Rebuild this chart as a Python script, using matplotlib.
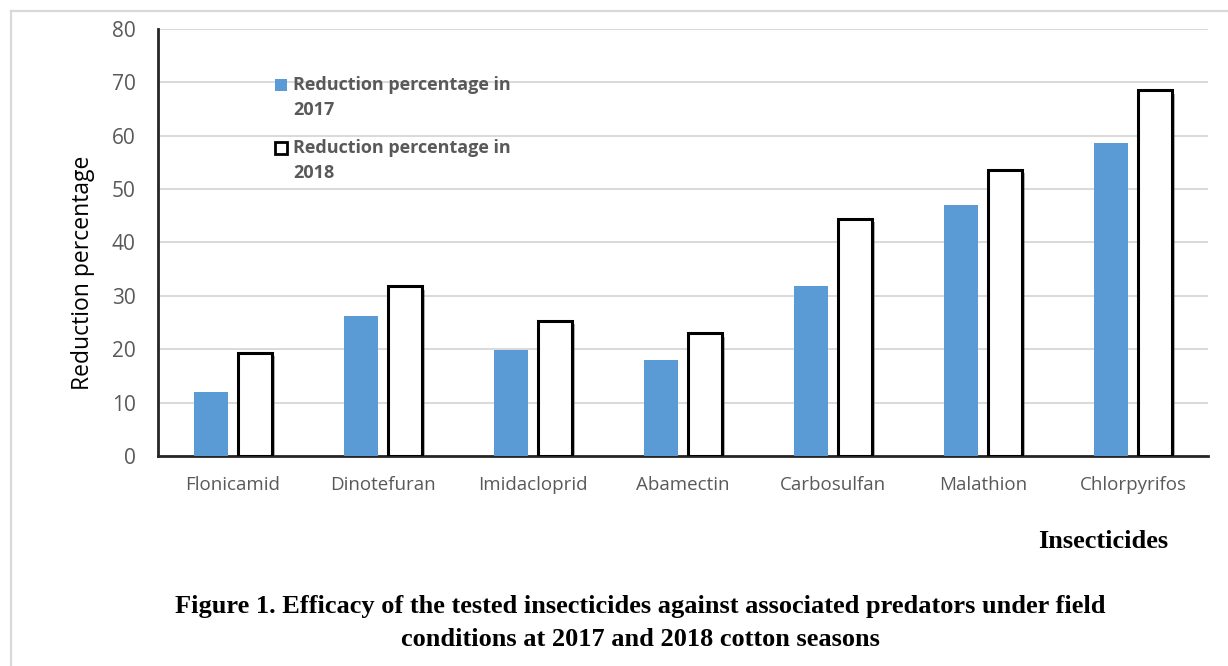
import matplotlib.pyplot as plt
import matplotlib.patheffects as pe
from matplotlib.lines import Line2D
import numpy as np

# Data
insecticides = ['Flonicamid', 'Dinotefuran', 'Imidacloprid', 'Abamectin',
                'Carbosulfan', 'Malathion', 'Chlorpyrifos']
red_2017 = [11.9, 26.2, 19.8, 18.0, 31.8, 47.1, 58.6]
red_2018 = [19.3, 31.8, 25.3, 23.0, 44.4, 53.6, 68.5]
legend_labels = [['Reduction percentage in', '2017'],
                 ['Reduction percentage in', '2018']]

W, H = 1228, 666
fig = plt.figure(figsize=(W / 100, H / 100), dpi=100)
ax = fig.add_axes([0.1287, 0.3153, 0.855, 0.6412])

x = np.arange(len(insecticides))
w = 0.225
ax.bar(x - 0.145, red_2017, width=w, color='#5B9BD5', zorder=3)
shadow = [pe.SimplePatchShadow(offset=(2.5, -2.5), shadow_rgbFace='#555555', alpha=0.45),
          pe.Normal()]
ax.bar(x + 0.145, red_2018, width=w, color='white', edgecolor='black', linewidth=2.2,
       zorder=3, path_effects=shadow)

ax.set_xlim(-0.5, len(insecticides) - 0.5)
ax.set_ylim(0, 80)
ax.set_yticks(range(0, 81, 10))
ax.set_xticks(x)
ax.set_xticklabels(insecticides, fontsize=13.5, color='#595959', family='Open Sans')
for t in ax.get_yticklabels():
    t.set_fontsize(15)
    t.set_color('#595959')
    t.set_family('Open Sans')
ax.tick_params(axis='both', length=0)
ax.tick_params(axis='y', pad=16)
ax.tick_params(axis='x', pad=14.5)
ax.yaxis.grid(True, color='#d9d9d9', linewidth=1.4, zorder=0)
ax.set_axisbelow(True)
for s in ['top', 'right']:
    ax.spines[s].set_visible(False)
ax.spines['left'].set_color('#262626')
ax.spines['left'].set_linewidth(2)
ax.spines['bottom'].set_color('#262626')
ax.spines['bottom'].set_linewidth(2)
ax.set_ylabel('Reduction percentage', fontsize=16.5, family='Open Sans')
ax.yaxis.set_label_coords(-0.06, 0.43)

# legend drawn by hand (marker sits beside the first line, as in the original)
styles = [dict(markerfacecolor='#5B9BD5', markeredgecolor='#5B9BD5', markeredgewidth=0),
          dict(markerfacecolor='white', markeredgecolor='black', markeredgewidth=2)]
for i, (lines, st) in enumerate(zip(legend_labels, styles)):
    y0 = 85 + i * 63
    fig.add_artist(Line2D([281 / W], [1 - y0 / H], marker='s', markersize=8, linestyle='none', **st))
    for j, txt in enumerate(lines):
        fig.text(293 / W, 1 - (y0 + j * 25) / H, txt, ha='left', va='center', fontsize=13,
                 fontweight='bold', color='#595959', family='Open Sans')

fig.text(1103 / W, 1 - 541 / H, 'Insecticides', ha='center', va='center', fontsize=19,
         fontweight='bold', family='Liberation Serif')
fig.text(640 / W, 1 - 607 / H, 'Figure 1. Efficacy of the tested insecticides against associated predators under field',
         ha='center', va='center', fontsize=19, fontweight='bold', family='Liberation Serif')
fig.text(640 / W, 1 - 640 / H, 'conditions at 2017 and 2018 cotton seasons',
         ha='center', va='center', fontsize=19, fontweight='bold', family='Liberation Serif')

# light outer frame
fig.add_artist(Line2D([11 / W, 1], [1 - 11 / H, 1 - 11 / H], color='#d9d9d9', linewidth=1.6))
fig.add_artist(Line2D([11 / W, 11 / W], [0, 1 - 11 / H], color='#d9d9d9', linewidth=1.6))

fig.savefig('out.png', dpi=100)
